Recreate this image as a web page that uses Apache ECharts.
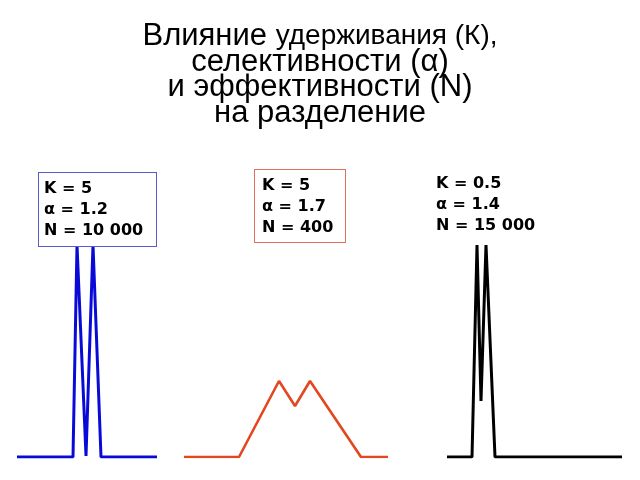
<!DOCTYPE html>
<html>
<head>
<meta charset="utf-8">
<script src="https://cdn.jsdelivr.net/npm/echarts@6/dist/echarts.min.js"></script>
<style>html,body{margin:0;padding:0;background:#fff}#c{width:640px;height:480px}</style>
</head>
<body>
<div id="c"></div>
<script>
// Retention (x) and signal (y)
var blueX = [17, 73, 77, 86, 93, 101, 157];
var blueY = [0, 0, 212, 1, 212, 0, 0];
var redX = [184, 239, 279, 295, 310, 361, 388];
var redY = [0, 0, 76, 51, 76, 0, 0];
var blackX = [447, 472, 477, 481, 486, 495, 622];
var blackY = [0, 0, 212, 56, 212, 0, 0];

var titleLines = ['Влияние', 'удерживания (К),', 'селективности (α)', 'и эффективности (N)', 'на разделение'];
var blueLabel = ['K = 5', 'α = 1.2', 'N = 10 000'];
var redLabel = ['K = 5', 'α = 1.7', 'N = 400'];
var blackLabel = ['K = 0.5', 'α = 1.4', 'N = 15 000'];

function pairs(xs, ys) { return xs.map(function (x, i) { return [x, ys[i]]; }); }

var chart = echarts.init(document.getElementById('c'));
var labelFont = 'bold 16px "DejaVu Sans", Verdana, sans-serif';
var tf = '"Liberation Sans", Arial, sans-serif';
chart.setOption({
  animation: false,
  backgroundColor: '#ffffff',
  grid: { left: 0, right: 0, top: 0, bottom: 23 },
  xAxis: { type: 'value', min: 0, max: 640, show: false },
  yAxis: { type: 'value', min: 0, max: 457, show: false },
  series: [
    { type: 'line', data: pairs(blueX, blueY), symbol: 'none', lineStyle: { color: '#0a0ad8', width: 3 }, z: 2 },
    { type: 'line', data: pairs(redX, redY), symbol: 'none', lineStyle: { color: '#e4461e', width: 2.6 }, z: 2 },
    { type: 'line', data: pairs(blackX, blackY), symbol: 'none', lineStyle: { color: '#000000', width: 3 }, z: 2 }
  ],
  graphic: [
    {
      type: 'text', x: 320, y: 24, z: 10,
      style: {
        text: '{a|' + titleLines[0] + ' }{b|' + titleLines[1] + '}\n{c|' + titleLines.slice(2).join('}\n{c|') + '}',
        align: 'center', verticalAlign: 'top',
        rich: {
          a: { fontFamily: tf, fontSize: 31, lineHeight: 25.5, fill: '#000' },
          b: { fontFamily: tf, fontSize: 28, lineHeight: 25.5, fill: '#000' },
          c: { fontFamily: tf, fontSize: 31, lineHeight: 25.5, fill: '#000' }
        }
      }
    },
    {
      type: 'text', left: 38, top: 172, z: 10,
      style: {
        text: blueLabel.join('\n'), font: labelFont, fill: '#000', lineHeight: 21,
        backgroundColor: '#fff', borderColor: '#5a5ad0', borderWidth: 1,
        padding: [5, 5, 5, 5], width: 107
      }
    },
    {
      type: 'text', left: 254, top: 169, z: 10,
      style: {
        text: redLabel.join('\n'), font: labelFont, fill: '#000', lineHeight: 21,
        backgroundColor: '#fff', borderColor: '#e0705c', borderWidth: 1,
        padding: [5, 3, 4, 7], width: 80
      }
    },
    {
      type: 'text', left: 436, top: 173, z: 10,
      style: { text: blackLabel.join('\n'), font: labelFont, fill: '#000', lineHeight: 21 }
    }
  ]
});
</script>
</body>
</html>
